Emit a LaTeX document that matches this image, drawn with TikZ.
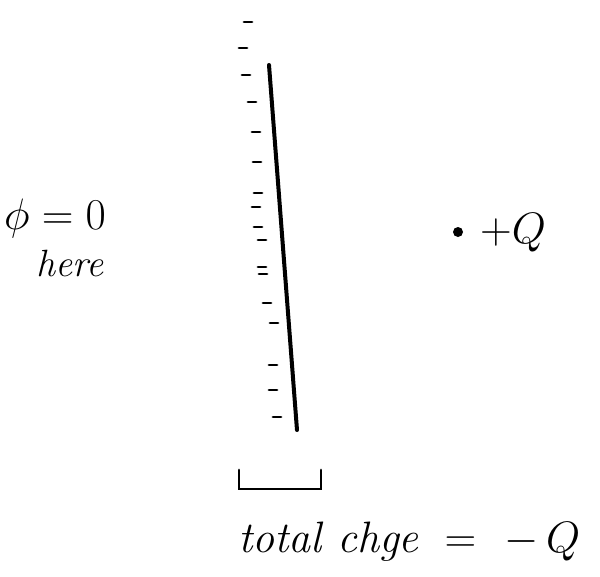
\RequirePackage{fix-cm}
\documentclass[tikz,border=0pt]{standalone}
\usepackage{fontspec}

\begin{document}
\begin{tikzpicture}[x=1pt,y=-1pt,line cap=round,
    sheet/.style={line width=4pt},
    minus mark/.style={line width=2.8pt},
    hand label/.style={font=\fontsize{44}{48}\selectfont\itshape, inner sep=0pt}]

    \useasboundingbox[fill=white] (0,0) rectangle (600,576);

    % the conducting sheet, slightly tilted
    \coordinate (top) at (269,65);
    \coordinate (bot) at (297,430);
    \draw[sheet] (top) -- (bot);

    % induced negative charges along the left side
    \foreach \x/\y in {248/22, 243/48, 246/75, 252/102, 256/132, 257/162,
                       258/193, 256/207, 258/227, 262/240, 262/267, 263/274,
                       267/303, 274/323, 273/365, 273/390, 277/417}
        \draw[minus mark] (\x-4,\y) -- (\x+4,\y);

    % width bracket under the sheet
    \coordinate (bl) at (239,470);
    \coordinate (br) at (321,470);
    \draw[line width=2.8pt] (bl) -- ++(0,19) -- (br |- 0,489) -- (br);

    % labels
    \node[hand label, anchor=west] (phi) at (4,218) {$\phi=0$};
    \node[hand label, anchor=north, font=\fontsize{38}{42}\selectfont\itshape] (here) at (70,250) {here};

    \fill (458,232) circle (5) coordinate (Qdot);
    \node[hand label, anchor=west] (Q) at (480,233) {$+Q$};

    \node[hand label, anchor=base west] (total) at (238,552) {total chge\hspace{26pt}$=\hspace{16pt}-\,Q$};

\end{tikzpicture}
\end{document}
